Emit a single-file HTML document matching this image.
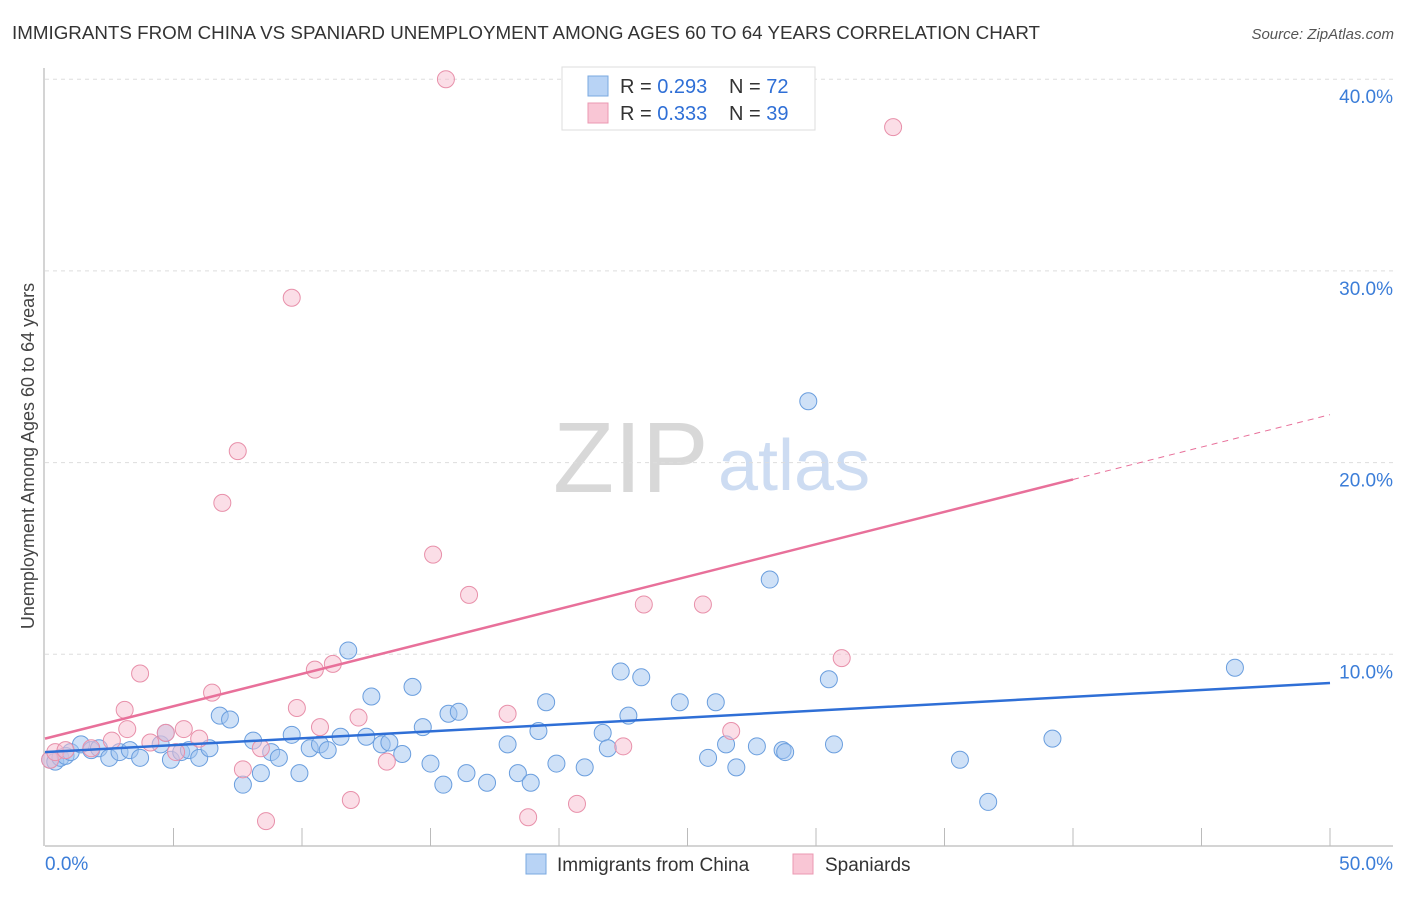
<!DOCTYPE html>
<html><head><meta charset="utf-8"><style>
body{margin:0;background:#fff;font-family:"Liberation Sans",sans-serif;}
svg text{font-family:"Liberation Sans",sans-serif;}
</style></head><body>
<svg id="chart" width="1406" height="892">
<text x="12" y="39" font-size="18" fill="#333" textLength="1028" lengthAdjust="spacingAndGlyphs">IMMIGRANTS FROM CHINA VS SPANIARD UNEMPLOYMENT AMONG AGES 60 TO 64 YEARS CORRELATION CHART</text>
<text x="1394" y="39" font-size="15" fill="#555" font-style="italic" text-anchor="end">Source: ZipAtlas.com</text>
<text x="34" y="456" font-size="18" fill="#444" text-anchor="middle" transform="rotate(-90 34 456)">Unemployment Among Ages 60 to 64 years</text>
<g><text x="553" y="492" font-size="100" fill="#d8d8d8" font-family="Liberation Serif,serif">ZIP</text><text x="718" y="490" font-size="72" fill="#cddcf2">atlas</text></g>
<g id="grid"></g><g id="axes"></g><g id="pts"></g><g id="lines"></g>
<g>
<rect x="562" y="67" width="253" height="63" fill="#fff" stroke="#ddd"/>
<rect x="588" y="76" width="20" height="20" fill="#b8d3f5" stroke="#7aa8e0"/>
<rect x="588" y="103" width="20" height="20" fill="#f9c6d5" stroke="#eb98b2"/>
<text x="620" y="93" font-size="20" fill="#333">R = <tspan fill="#2f6fd6">0.293</tspan><tspan x="729">N = </tspan><tspan fill="#2f6fd6">72</tspan></text>
<text x="620" y="120" font-size="20" fill="#333">R = <tspan fill="#2f6fd6">0.333</tspan><tspan x="729">N = </tspan><tspan fill="#2f6fd6">39</tspan></text>
</g>
<g>
<rect x="526" y="854" width="20" height="20" fill="#b8d3f5" stroke="#7aa8e0"/>
<text x="557" y="871" font-size="19" fill="#333">Immigrants from China</text>
<rect x="793" y="854" width="20" height="20" fill="#f9c6d5" stroke="#eb98b2"/>
<text x="825" y="871" font-size="19" fill="#333">Spaniards</text>
</g>
</svg>
<script>
const yTicks=[10,20,30,40];
const xLabels=["0.0%","50.0%"];
const chinaX=[0.2,0.4,0.6,0.8,1.0,1.4,1.8,2.1,2.5,2.9,3.3,3.7,4.5,4.7,4.9,5.3,5.6,6.0,6.4,6.8,7.2,7.7,8.1,8.4,8.8,9.1,9.6,9.9,10.3,10.7,11.0,11.5,11.8,12.5,12.7,13.1,13.4,13.9,14.3,14.7,15.0,15.5,15.7,16.1,16.4,17.2,18.0,18.4,18.9,19.2,19.5,19.9,21.0,21.7,21.9,22.4,22.7,23.2,24.7,25.8,26.1,26.5,26.9,27.7,28.2,28.7,28.8,29.7,30.5,30.7,35.6,36.7,39.2,46.3];
const chinaY=[4.5,4.4,4.6,4.7,4.9,5.3,5.0,5.1,4.6,4.9,5.0,4.6,5.3,5.9,4.5,4.9,5.0,4.6,5.1,6.8,6.6,3.2,5.5,3.8,4.9,4.6,5.8,3.8,5.1,5.3,5.0,5.7,10.2,5.7,7.8,5.3,5.4,4.8,8.3,6.2,4.3,3.2,6.9,7.0,3.8,3.3,5.3,3.8,3.3,6.0,7.5,4.3,4.1,5.9,5.1,9.1,6.8,8.8,7.5,4.6,7.5,5.3,4.1,5.2,13.9,5.0,4.9,23.2,8.7,5.3,4.5,2.3,5.6,9.3];
const spainX=[0.2,0.4,0.8,1.8,2.6,3.1,3.2,3.7,4.1,4.7,5.1,5.4,6.0,6.5,6.9,7.5,7.7,8.4,8.6,9.6,9.8,10.5,10.7,11.2,11.9,12.2,13.3,15.1,15.6,16.5,18.0,18.8,20.7,22.5,23.3,25.6,26.7,31.0,33.0];
const spainY=[4.5,4.9,5.0,5.1,5.5,7.1,6.1,9.0,5.4,5.9,4.9,6.1,5.6,8.0,17.9,20.6,4.0,5.1,1.3,28.6,7.2,9.2,6.2,9.5,2.4,6.7,4.4,15.2,40.0,13.1,6.9,1.5,2.2,5.2,12.6,12.6,6.0,9.8,37.5];
const chinaFit=[4.9,8.5];
const spainFit=[5.6,22.5];
const NS="http://www.w3.org/2000/svg";
const X=v=>45+v*25.7, Y=v=>846-v*19.17;
function mk(tag,attrs,parent){const e=document.createElementNS(NS,tag);for(const k in attrs)e.setAttribute(k,attrs[k]);document.getElementById(parent).appendChild(e);return e;}
yTicks.forEach(t=>{
 const l=mk('line',{x1:45,x2:1393,y1:Y(t),y2:Y(t),stroke:'#ddd','stroke-dasharray':'4,4'},'grid');
 
 
 const tx=mk('text',{x:1393,y:Y(t)+24,'font-size':19,fill:'#3b7dd8','text-anchor':'end'},'grid');
 tx.textContent=t.toFixed(1)+'%';
 
 
});
mk('line',{x1:45,x2:1393,y1:Y(0),y2:Y(0),stroke:'#aaa'},'axes');
mk('line',{x1:44,x2:44,y1:68,y2:846,stroke:'#aaa'},'axes');
for(let i=1;i<=10;i++){const t=mk('line',{x1:X(i*5),x2:X(i*5),y1:828,y2:846,stroke:'#bbb'},'axes');
 
 }
[[0,'start',45],[1,'end',1393]].forEach(([i,a,x])=>{const t=mk('text',{x:x,y:870,'font-size':19,fill:'#3b7dd8','text-anchor':a},'axes');t.textContent=xLabels[i];
 
 });
chinaX.forEach((v,i)=>{const c=mk('circle',{cx:X(v),cy:Y(chinaY[i]),r:8.5,fill:'rgba(160,195,240,0.5)',stroke:'#6a9ede','stroke-width':1},'pts');
 
 });
spainX.forEach((v,i)=>{const c=mk('circle',{cx:X(v),cy:Y(spainY[i]),r:8.5,fill:'rgba(248,190,208,0.5)',stroke:'#e890aa','stroke-width':1},'pts');
 
 });
const bl=mk('line',{x1:X(0),y1:Y(chinaFit[0]),x2:X(50),y2:Y(chinaFit[1]),stroke:'#2f6fd6','stroke-width':2.5},'lines');


const sAt=x=>spainFit[0]+(spainFit[1]-spainFit[0])*x/50;
const pl=mk('line',{x1:X(0),y1:Y(sAt(0)),x2:X(40),y2:Y(sAt(40)),stroke:'#e8709a','stroke-width':2.5},'lines');


const pd=mk('line',{x1:X(40),y1:Y(sAt(40)),x2:X(50),y2:Y(sAt(50)),stroke:'#e8709a','stroke-width':1,'stroke-dasharray':'6,5'},'lines');


</script>
</body></html>
